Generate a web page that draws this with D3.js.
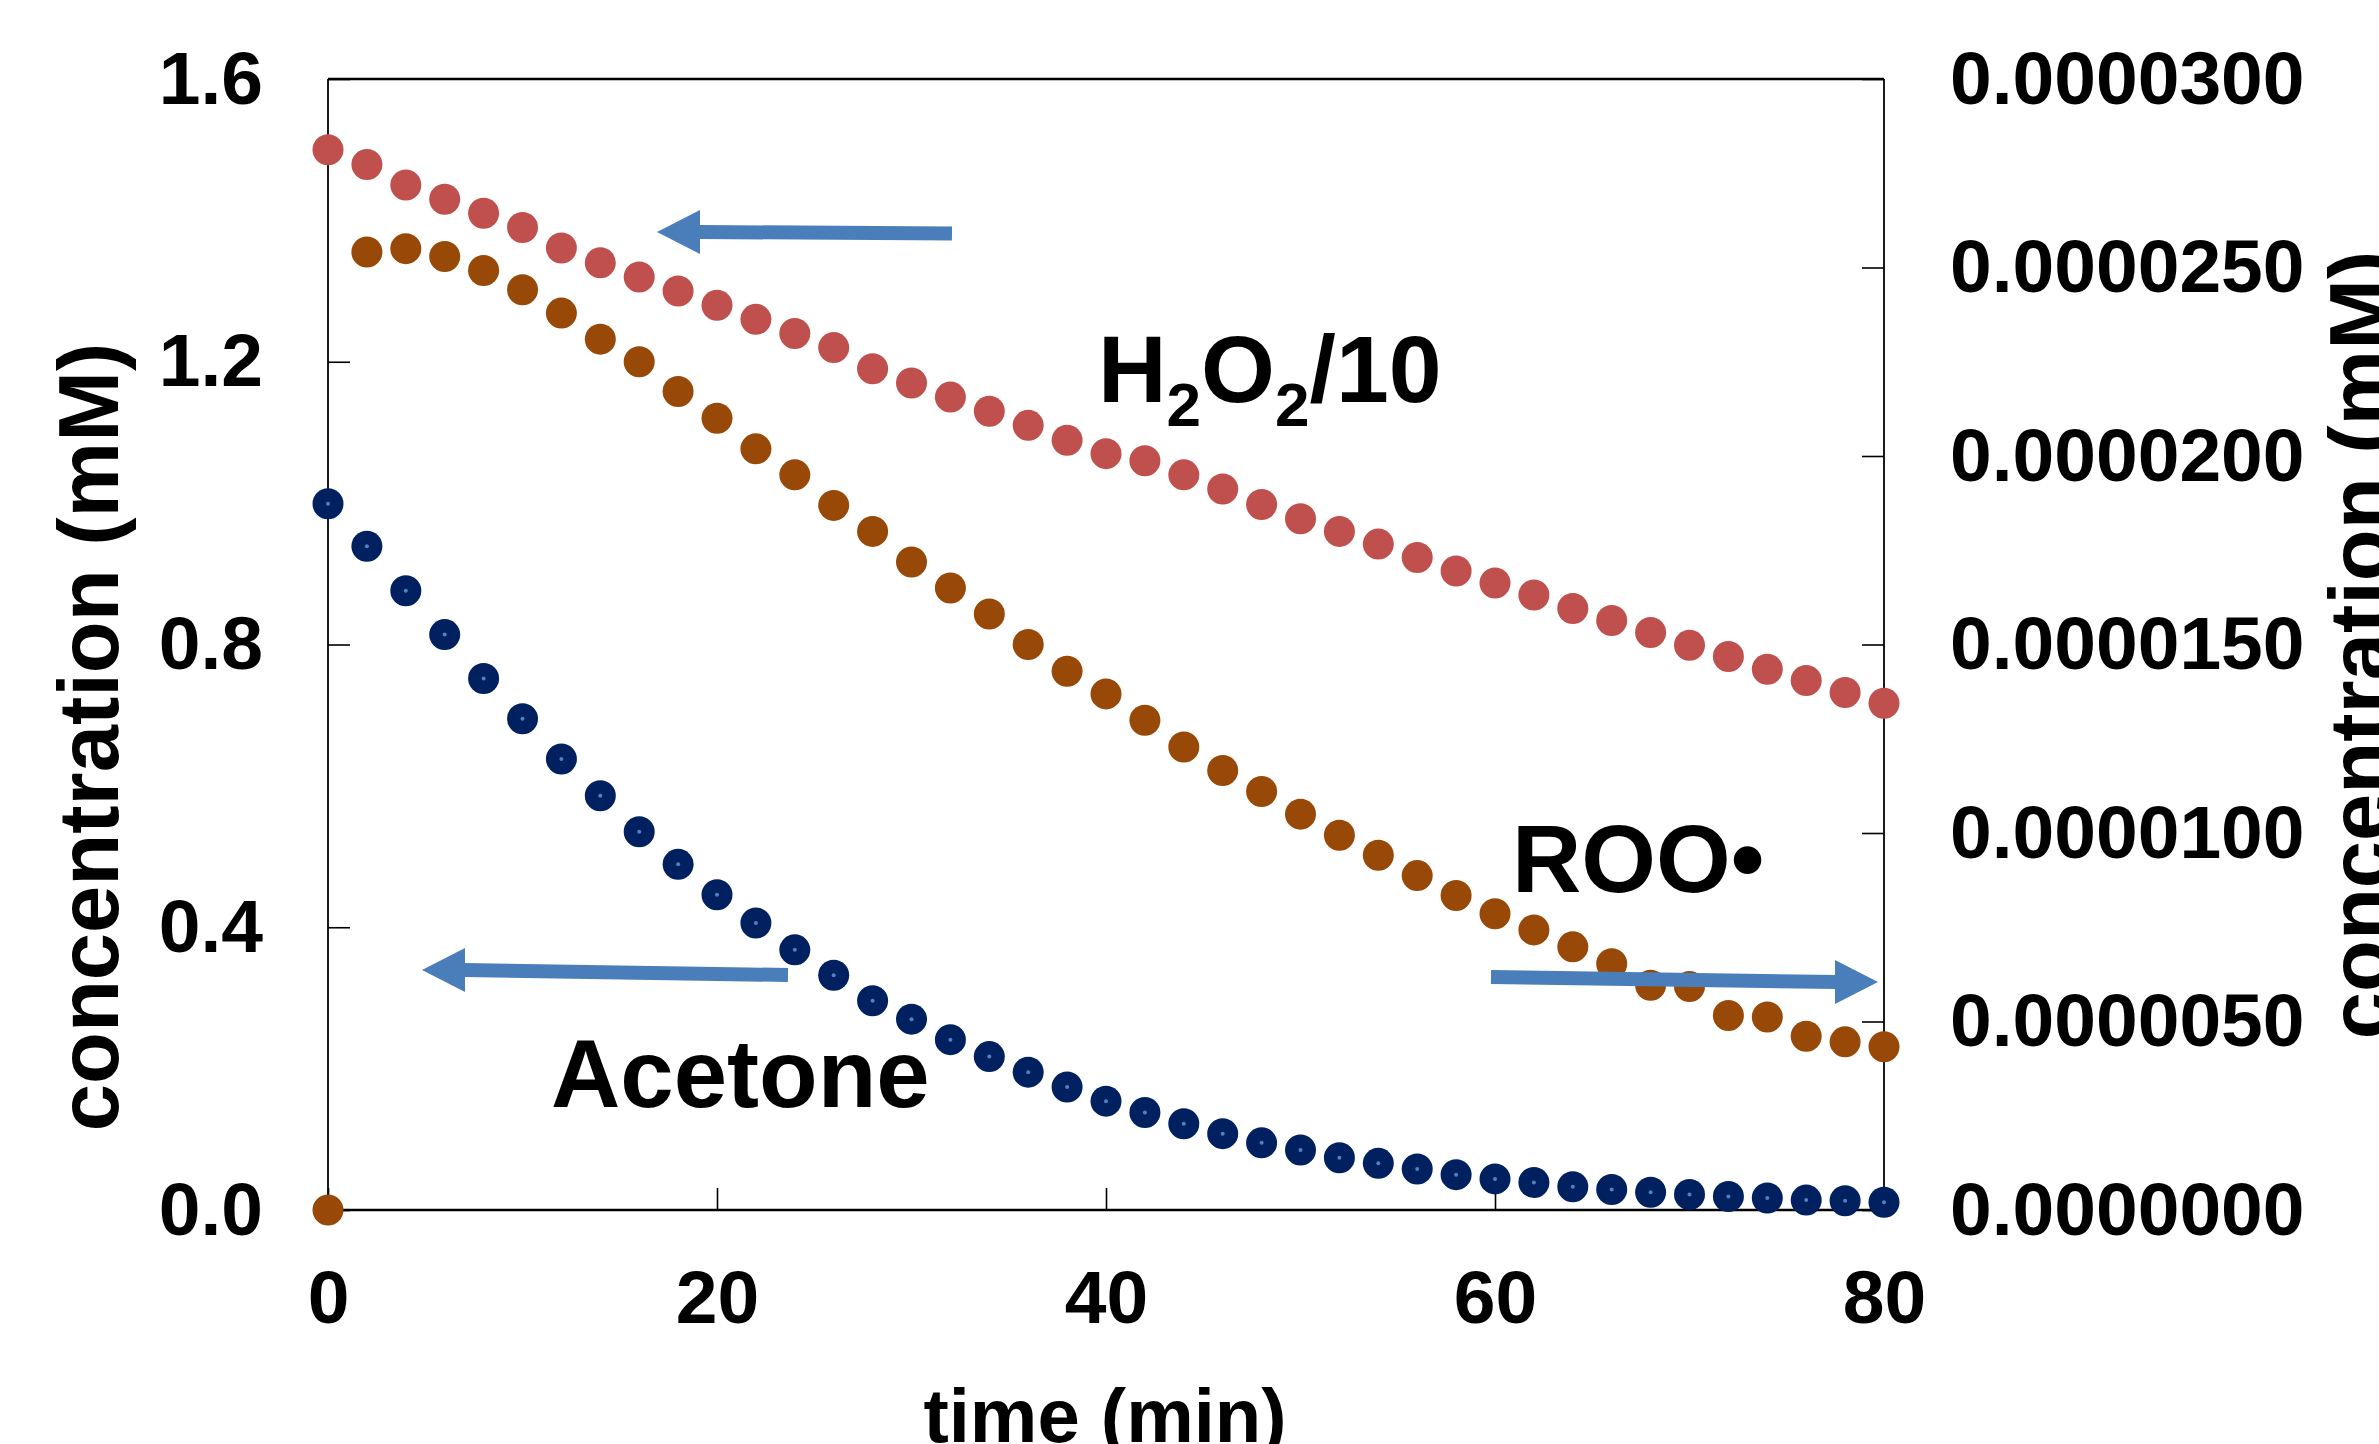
<!DOCTYPE html>
<html>
<head>
<meta charset="utf-8">
<script src="https://cdn.jsdelivr.net/npm/d3@7"></script>
<style>
  html, body { margin: 0; padding: 0; background: #ffffff; }
  svg { display: block; }
  text { font-family: "Liberation Sans", Arial, sans-serif; font-weight: bold; fill: #000; }
</style>
</head>
<body>
<svg id="chart" width="2379" height="1444"></svg>
<script>
// ---------- data ----------
const timeMin = [0,2,4,6,8,10,12,14,16,18,20,22,24,26,28,30,32,34,36,38,40,
                 42,44,46,48,50,52,54,56,58,60,62,64,66,68,70,72,74,76,78,80];

// H2O2/10 (mM, left axis)
const h2o2Div10 = [1.500,1.479,1.450,1.430,1.410,1.390,1.361,1.340,1.320,1.300,1.280,
                   1.260,1.240,1.220,1.190,1.170,1.150,1.130,1.110,1.089,1.070,
                   1.060,1.040,1.020,0.998,0.978,0.960,0.942,0.923,0.904,0.887,
                   0.870,0.851,0.834,0.817,0.799,0.783,0.765,0.749,0.732,0.717];

// Acetone (mM, left axis)
const acetone = [0.999,0.939,0.876,0.814,0.752,0.695,0.638,0.586,0.535,0.489,0.446,
                 0.406,0.368,0.332,0.296,0.270,0.241,0.217,0.195,0.174,0.154,
                 0.138,0.122,0.108,0.095,0.085,0.074,0.066,0.058,0.050,0.044,
                 0.039,0.033,0.029,0.025,0.022,0.019,0.017,0.014,0.013,0.011];

// ROO• (mM, right axis)
const roo = [0,2.541e-5,2.550e-5,2.529e-5,2.492e-5,2.441e-5,2.379e-5,2.310e-5,2.250e-5,2.171e-5,2.100e-5,
             2.019e-5,1.950e-5,1.869e-5,1.800e-5,1.719e-5,1.650e-5,1.581e-5,1.500e-5,1.429e-5,1.369e-5,
             1.299e-5,1.228e-5,1.166e-5,1.110e-5,1.050e-5,0.994e-5,0.941e-5,0.887e-5,0.834e-5,0.786e-5,
             0.743e-5,0.698e-5,0.653e-5,0.596e-5,0.593e-5,0.516e-5,0.512e-5,0.461e-5,0.446e-5,0.433e-5];

const xTicks = [0,20,40,60,80];
const yLeftTicks = [0,0.4,0.8,1.2,1.6];
const yRightTicks = [0,0.000005,0.00001,0.000015,0.00002,0.000025,0.00003];

const xTitle = "time (min)";
const yTitle = "concentration (mM)";
const labelH2O2 = {main1: "H", sub1: "2", main2: "O", sub2: "2", tail: "/10"};
const labelROO = "ROO\u2022";
const labelAcetone = "Acetone";

// ---------- layout ----------
const L = 328, R = 1884, T = 79, B = 1210;
const svg = d3.select("#chart");

const x = d3.scaleLinear().domain([0, 80]).range([L, R]);
const yL = d3.scaleLinear().domain([0, 1.6]).range([B, T]);
const yR = d3.scaleLinear().domain([0, 0.00003]).range([B, T]);

const tickFont = 75;

// axes
const gx = svg.append("g").attr("transform", `translate(0,${B})`)
  .call(d3.axisBottom(x).tickValues(xTicks).tickFormat(d3.format("d"))
        .tickSizeInner(-22).tickSizeOuter(0).tickPadding(60));
const gyl = svg.append("g").attr("transform", `translate(${L},0)`)
  .call(d3.axisLeft(yL).tickValues(yLeftTicks).tickFormat(d3.format(".1f"))
        .tickSizeInner(-22).tickSizeOuter(0).tickPadding(65));
const gyr = svg.append("g").attr("transform", `translate(${R},0)`)
  .call(d3.axisRight(yR).tickValues(yRightTicks).tickFormat(d3.format(".7f"))
        .tickSizeInner(-22).tickSizeOuter(0).tickPadding(66));

[gx, gyl, gyr].forEach(g => {
  g.select(".domain").remove();
  g.selectAll(".tick line").attr("stroke", "#000").attr("stroke-width", 1.6);
  g.selectAll(".tick text").attr("font-size", tickFont).attr("font-weight", "bold")
    .attr("font-family", '"Liberation Sans", Arial, sans-serif').attr("fill", "#000");
});

// frame
svg.append("line").attr("x1", L).attr("x2", R).attr("y1", T).attr("y2", T)
  .attr("stroke", "#000").attr("stroke-width", 2.4);
svg.append("line").attr("x1", L).attr("x2", R).attr("y1", B).attr("y2", B)
  .attr("stroke", "#000").attr("stroke-width", 2.6);
svg.append("line").attr("x1", L).attr("x2", L).attr("y1", T).attr("y2", B)
  .attr("stroke", "#000").attr("stroke-width", 1.8);
svg.append("line").attr("x1", R).attr("x2", R).attr("y1", T).attr("y2", B)
  .attr("stroke", "#000").attr("stroke-width", 1.8);

// titles
svg.append("text").attr("transform", `translate(118,737) rotate(-90)`)
  .attr("text-anchor", "middle").attr("font-size", 85).text(yTitle);
svg.append("text").attr("transform", `translate(2389,645) rotate(-90)`)
  .attr("text-anchor", "middle").attr("font-size", 85).text(yTitle);
svg.append("text").attr("x", 1105).attr("y", 1442)
  .attr("text-anchor", "middle").attr("font-size", 76).text(xTitle);

// series
const r = 15.5;
const dots = (vals, scale, color) => svg.append("g").selectAll("circle")
  .data(timeMin.map((t, i) => [t, vals[i]]))
  .join("circle")
  .attr("cx", d => x(d[0])).attr("cy", d => scale(d[1]))
  .attr("r", r).attr("fill", color);

dots(h2o2Div10, yL, "#C0504D");
dots(roo, yR, "#984807");
dots(acetone, yL, "#002060");
svg.append("g").selectAll("circle")
  .data(timeMin.map((t, i) => [t, acetone[i]]))
  .join("circle")
  .attr("cx", d => x(d[0])).attr("cy", d => yL(d[1]))
  .attr("r", 2).attr("fill", "#4F81BD");

// arrows
const arrowColor = "#4A7EBB";
function arrow(x0, y0, x1, y1) {
  const dir = Math.sign(x1 - x0);
  const headLen = 43, headHalf = 22, shaft = 14;
  const bx = x1 - dir * headLen;
  svg.append("line").attr("x1", x0).attr("y1", y0).attr("x2", bx + dir * 1).attr("y2", y1)
    .attr("stroke", arrowColor).attr("stroke-width", shaft);
  svg.append("path")
    .attr("d", `M${x1},${y1} L${bx},${y1 - headHalf} L${bx},${y1 + headHalf} Z`)
    .attr("fill", arrowColor);
}
arrow(952, 233.5, 657, 232);
arrow(788, 975, 422, 970);
arrow(1491, 977, 1878, 982);

// annotations
const ann = 96;
const h = svg.append("text").attr("x", 1098).attr("y", 402).attr("font-size", 95);
h.append("tspan").text(labelH2O2.main1);
h.append("tspan").attr("font-size", 62).attr("dy", 24).text(labelH2O2.sub1);
h.append("tspan").attr("dy", -24).text(labelH2O2.main2);
h.append("tspan").attr("font-size", 62).attr("dy", 24).text(labelH2O2.sub2);
h.append("tspan").attr("dy", -24).text(labelH2O2.tail);

svg.append("text").attr("x", 1512).attr("y", 892).attr("font-size", ann).text(labelROO);
svg.append("text").attr("x", 551).attr("y", 1107).attr("font-size", ann).text(labelAcetone);
</script>
</body>
</html>
